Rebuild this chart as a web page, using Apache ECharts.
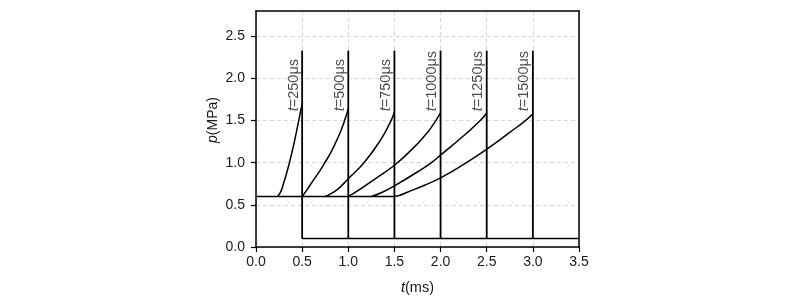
<!DOCTYPE html>
<html>
<head>
<meta charset="utf-8">
<script src="https://cdn.jsdelivr.net/npm/echarts@6/dist/echarts.min.js"></script>
<style>
html,body{margin:0;padding:0;background:#fff;}
#c{width:793px;height:302px;}
</style>
</head>
<body>
<div id="c"></div>
<script>
// ---- data ----
var xTicks = [0, 0.5, 1.0, 1.5, 2.0, 2.5, 3.0, 3.5];
var yTicks = [0, 0.5, 1.0, 1.5, 2.0, 2.5];
var closeTimes = [0.5, 1.0, 1.5, 2.0, 2.5, 3.0];          // ms, vertical lines
var labelTexts = ['250', '500', '750', '1000', '1250', '1500'];  // μs
var verticalLow = 0.1, verticalHigh = 2.33, labelLevel = 1.61;
var baseline = [[0, 0.6], [1.5, 0.6]];
var lowLine = [[0.5, 0.1], [3.5, 0.1]];
var curve250 = [[0.235,0.6],[0.27,0.66],[0.3,0.76],[0.33,0.87],[0.362,1.0],[0.41,1.22],[0.463,1.5],[0.5,1.7]];
var curve500 = [[0.5,0.6],[0.56,0.69],[0.626,0.8],[0.69,0.9],[0.746,1.0],[0.81,1.12],[0.862,1.235],[0.92,1.38],[0.96,1.5],[1.0,1.64]];
var curve750 = [[0.75,0.6],[0.8,0.625],[0.88,0.68],[1.0,0.81],[1.17,1.0],[1.35,1.27],[1.45,1.47],[1.5,1.6]];
var curve1000 = [[1.0,0.6],[1.1,0.665],[1.28,0.8],[1.5,0.97],[1.7,1.17],[1.82,1.31],[1.9,1.42],[2.0,1.59]];
var curve1250 = [[1.25,0.6],[1.35,0.64],[1.5,0.725],[1.82,0.94],[1.9,1.0],[2.0,1.09],[2.25,1.32],[2.43,1.5],[2.5,1.59]];
var curve1500 = [[1.5,0.6],[1.56,0.615],[1.64,0.65],[1.82,0.73],[2.0,0.82],[2.25,0.98],[2.5,1.16],[2.75,1.36],[2.92,1.5],[3.0,1.58]];

var FONT = '"Liberation Sans", Arial, Helvetica, sans-serif';
var TXT = '#1a1a1a';
var chart = echarts.init(document.getElementById('c'), null, {renderer: 'canvas'});

function lineSeries(data, w, smooth) {
  return {
    type: 'line', data: data, showSymbol: false, symbol: 'none',
    smooth: smooth, silent: true, xAxisIndex: 0, yAxisIndex: 0,
    lineStyle: {color: '#000', width: w}, z: 3
  };
}
var series = [];
series.push(lineSeries(baseline, 1.5, false));
series.push(lineSeries(lowLine, 1.5, false));
[curve250, curve500, curve750, curve1000, curve1250, curve1500].forEach(function (c) {
  series.push(lineSeries(c, 1.5, 0.5));
});
closeTimes.forEach(function (t) {
  series.push(lineSeries([[t, verticalLow], [t, verticalHigh]], 1.8, false));
});
series.push({
  type: 'scatter', symbolSize: 0, silent: true, z: 5,
  data: closeTimes.map(function (t) { return [t, labelLevel]; }),
  label: {
    show: true, position: [0, 0], rotate: 90, align: 'left', verticalAlign: 'bottom',
    offset: [0, -1],
    formatter: function (p) { return '{i|t}{n|=' + labelTexts[p.dataIndex] + 'μs}'; },
    rich: {
      i: {fontFamily: FONT, fontSize: 14.5, fontStyle: 'italic', color: TXT},
      n: {fontFamily: FONT, fontSize: 14.5, color: TXT}
    }
  }
});

var splitStyle = {show: true, lineStyle: {color: '#d6d6d6', type: [4, 3], width: 1}};
var frameAxisLine = {show: true, onZero: false, lineStyle: {color: '#000', width: 1.5}};
chart.setOption({
  animation: false,
  backgroundColor: '#fff',
  grid: {left: 256, right: 214, top: 11, bottom: 55, show: false},
  xAxis: [{
    type: 'value', min: xTicks[0], max: xTicks[xTicks.length - 1], interval: 0.5,
    axisLine: frameAxisLine,
    axisTick: {show: true, inside: false, length: 5, lineStyle: {color: '#000', width: 1.2}},
    axisLabel: {margin: 8, fontFamily: FONT, fontSize: 14, color: TXT, formatter: function (v) { return v.toFixed(1); }},
    splitLine: splitStyle,
    name: '{i|t}{n|(ms)}', nameLocation: 'middle', nameGap: 33,
    nameTextStyle: {rich: {
      i: {fontFamily: FONT, fontSize: 14.5, fontStyle: 'italic', color: TXT},
      n: {fontFamily: FONT, fontSize: 14.5, color: TXT}
    }}
  }, {
    type: 'value', position: 'top', min: 0, max: 3.5, interval: 0.5,
    axisLine: frameAxisLine, axisTick: {show: false}, axisLabel: {show: false}, splitLine: {show: false}
  }],
  yAxis: [{
    type: 'value', min: 0, max: 2.8, interval: 0.5,
    axisLine: frameAxisLine,
    axisTick: {show: true, inside: false, length: 5, lineStyle: {color: '#000', width: 1.2}, customValues: yTicks},
    axisLabel: {margin: 11, fontFamily: FONT, fontSize: 14, color: TXT, customValues: yTicks,
      formatter: function (v) { return v.toFixed(1); }},
    splitLine: splitStyle,
    name: '{i|p}{n|(MPa)}', nameLocation: 'middle', nameGap: 36,
    nameTextStyle: {padding: [0, 0, 0, 18], rich: {
      i: {fontFamily: FONT, fontSize: 14, fontStyle: 'italic', color: TXT},
      n: {fontFamily: FONT, fontSize: 14, color: TXT}
    }}
  }, {
    type: 'value', position: 'right', min: 0, max: 2.8, interval: 0.5,
    axisLine: frameAxisLine, axisTick: {show: false}, axisLabel: {show: false}, splitLine: {show: false}
  }],
  series: series
});
</script>
</body>
</html>
